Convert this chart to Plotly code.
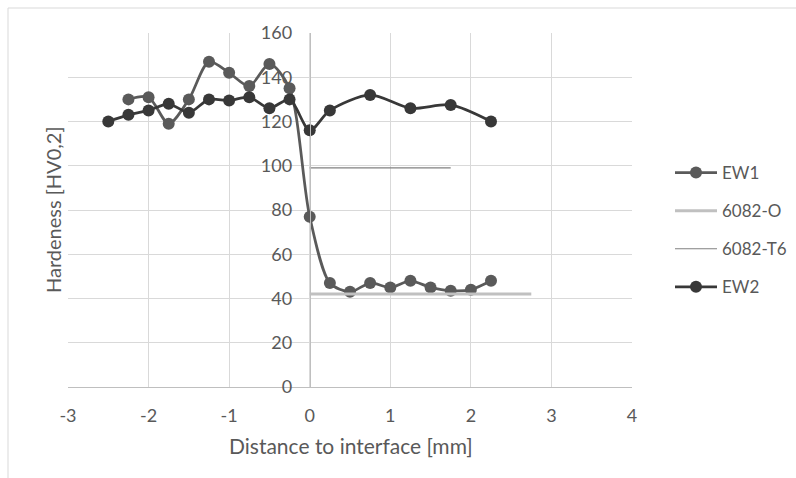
import plotly.graph_objects as go

ew1_x = [-2.25, -2.0, -1.75, -1.5, -1.25, -1.0, -0.75, -0.5, -0.25, 0.0,
         0.25, 0.5, 0.75, 1.0, 1.25, 1.5, 1.75, 2.0, 2.25]
ew1_y = [130, 131, 119, 130, 147, 142, 136, 146, 135, 77,
         47, 43, 47, 45, 48, 45, 43.5, 44, 48]

ew2_x = [-2.5, -2.25, -2.0, -1.75, -1.5, -1.25, -1.0, -0.75, -0.5, -0.25, 0.0,
         0.25, 0.75, 1.25, 1.75, 2.25]
ew2_y = [120, 123, 125, 128, 124, 130, 129.5, 131, 126, 130, 116,
         125, 132, 126, 127.5, 120]

o_x = [0.0, 2.75]
o_y = [42, 42]
t6_x = [0.0, 1.75]
t6_y = [99, 99]

x_ticks = [-3, -2, -1, 0, 1, 2, 3, 4]
x_ticklabels = ["-3", "-2", "-1", "0", "1", "2", "3", "4"]

FONT = "Lato, 'Liberation Sans Narrow', 'Open Sans', sans-serif"
TXT = "#595959"

fig = go.Figure()
fig.add_trace(go.Scatter(x=ew1_x, y=ew1_y, name="EW1", mode="lines+markers",
                         line=dict(color="#5a5a5a", width=2.75, shape="spline", smoothing=0.8),
                         marker=dict(color="#5a5a5a", size=12), legendgroup="a"))
fig.add_trace(go.Scatter(x=o_x, y=o_y, name="6082-O", mode="lines",
                         line=dict(color="#c0c0c0", width=3), legendgroup="b"))
fig.add_trace(go.Scatter(x=t6_x, y=t6_y, name="6082-T6", mode="lines",
                         line=dict(color="#808080", width=1.2), legendgroup="c"))
fig.add_trace(go.Scatter(x=ew2_x, y=ew2_y, name="EW2", mode="lines+markers",
                         line=dict(color="#383838", width=2.75, shape="spline", smoothing=0.8),
                         marker=dict(color="#383838", size=12), legendgroup="d"))

L, R, T, B = 68, 164, 33, 91
W, H = 796, 478
pw, ph = W - L - R, H - T - B

def px(x):
    return (x - L) / pw

def py(y):
    return (H - B - y) / ph

fig.update_layout(
    width=W, height=H,
    margin=dict(l=L, r=R, t=T, b=B, autoexpand=False),
    paper_bgcolor="white", plot_bgcolor="white",
    font=dict(family=FONT, size=18, color=TXT),
    showlegend=True,
    legend=dict(x=px(670), y=py(155), xanchor="left", yanchor="top",
                tracegroupgap=13, traceorder="grouped", itemwidth=42,
                font=dict(size=17, color=TXT), bgcolor="rgba(0,0,0,0)"),
    xaxis=dict(range=[-3, 4], tickvals=x_ticks, ticktext=x_ticklabels,
               showgrid=True, gridcolor="#d9d9d9",
               gridwidth=1, zeroline=False, showline=True, linecolor="#bfbfbf",
               ticks="", ticklabelstandoff=12, tickfont=dict(size=18),
               title=dict(text="")),
    yaxis=dict(range=[0, 160], dtick=20, showgrid=True, gridcolor="#d9d9d9",
               gridwidth=1, zeroline=False, showline=True, linecolor="#bfbfbf",
               anchor="free", position=3/7, ticks="", ticklabelstandoff=14,
               tickfont=dict(size=18), title=dict(text="")),
    shapes=[dict(type="rect", xref="paper", yref="paper",
                 x0=px(8), x1=px(805), y0=py(490), y1=py(8),
                 line=dict(color="#d9d9d9", width=1), fillcolor="rgba(0,0,0,0)",
                 layer="below")],
    annotations=[
        dict(text="Hardeness [HV0,2]", xref="paper", yref="paper",
             x=px(53), y=py(210), textangle=-90, showarrow=False,
             font=dict(size=20, color=TXT), xanchor="center", yanchor="middle"),
        dict(text="Distance to interface [mm]", xref="paper", yref="paper",
             x=px(351), y=py(445), showarrow=False,
             font=dict(size=21, color=TXT), xanchor="center", yanchor="middle"),
    ],
)

fig.write_html("out.html")
